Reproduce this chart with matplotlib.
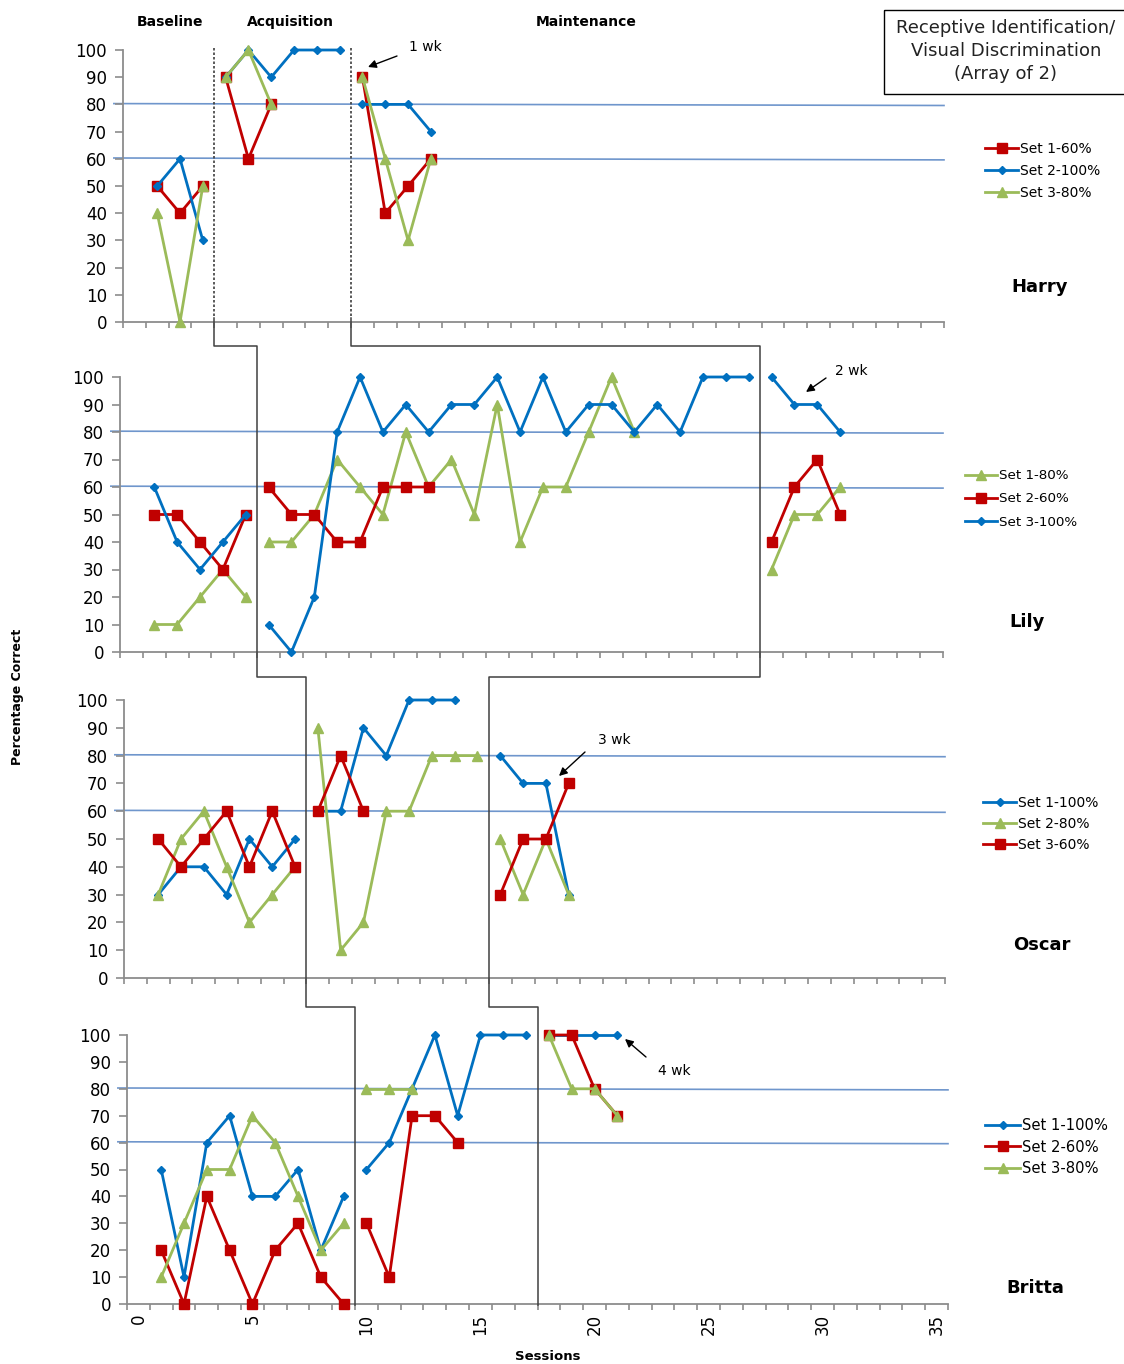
import numpy as np
import matplotlib
matplotlib.use("Agg")
import matplotlib.pyplot as plt
from matplotlib.patches import Rectangle
from matplotlib.ticker import FixedLocator

plt.rcParams['font.family'] = ['DejaVu Sans']

nan = np.nan

# ---- data ----
harry_sessions = np.arange(1, 14)
harry_phase = np.array([0]*3 + [1]*6 + [2]*4)
harry_set1 = [50, 40, 50, 90, 60, 80, nan, nan, nan, 90, 40, 50, 60]
harry_set2 = [50, 60, 30, 90, 100, 90, 100, 100, 100, 80, 80, 80, 70]
harry_set3 = [40, 0, 50, 90, 100, 80, nan, nan, nan, 90, 60, 30, 60]

lily_sessions = np.arange(1, 32)
lily_phase = np.array([0]*5 + [1]*22 + [2]*4)
lily_set1 = [10, 10, 20, 30, 20,
             40, 40, 50, 70, 60, 50, 80, 60, 70, 50, 90, 40, 60, 60, 80, 100, 80,
             nan, nan, nan, nan, nan,
             30, 50, 50, 60]
lily_set2 = [50, 50, 40, 30, 50,
             60, 50, 50, 40, 40, 60, 60, 60] + [nan]*14 + [40, 60, 70, 50]
lily_set3 = [60, 40, 30, 40, 50,
             10, 0, 20, 80, 100, 80, 90, 80, 90, 90, 100, 80, 100, 80, 90, 90, 80,
             90, 80, 100, 100, 100,
             100, 90, 90, 80]

oscar_sessions = np.arange(1, 20)
oscar_phase = np.array([0]*7 + [1]*8 + [2]*4)
oscar_set1 = [30, 40, 40, 30, 50, 40, 50, 60, 60, 90, 80, 100, 100, 100, nan, 80, 70, 70, 30]
oscar_set2 = [30, 50, 60, 40, 20, 30, 40, 90, 10, 20, 60, 60, 80, 80, 80, 50, 30, 50, 30]
oscar_set3 = [50, 40, 50, 60, 40, 60, 40, 60, 80, 60, nan, nan, nan, nan, nan, 30, 50, 50, 70]

britta_sessions = np.arange(1, 22)
britta_phase = np.array([0]*9 + [1]*8 + [2]*4)
britta_set1 = [50, 10, 60, 70, 40, 40, 50, 20, 40, 50, 60, 80, 100, 70, 100, 100, 100, 100, 100, 100, 100]
britta_set2 = [20, 0, 40, 20, 0, 20, 30, 10, 0, 30, 10, 70, 70, 60, nan, nan, nan, 100, 100, 80, 70]
britta_set3 = [10, 30, 50, 50, 70, 60, 40, 20, 30, 80, 80, 80, nan, nan, nan, nan, nan, 100, 80, 80, 70]

criteria = [60, 80]
phase_names = ["Baseline", "Acquisition", "Maintenance"]

# ---- styles ----
RED = dict(color='#C00000', marker='s', ms=6.5, lw=2)
BLUE = dict(color='#0070C0', marker='D', ms=4.5, lw=2)
GREEN = dict(color='#9BBB59', marker='^', ms=7, lw=2)
AXC = '#8C8C8C'

W, H = 1124, 1364
fig = plt.figure(figsize=(W/100, H/100), dpi=100)


def px_axes(left, top, right, bottom):
    return fig.add_axes([left/W, 1 - bottom/H, (right - left)/W, (bottom - top)/H])


def draw_panel(ax, sessions, phases, series, bottom=False):
    for c in criteria:
        ax.plot([-0.9, 35.5], [c + 0.3, c - 0.4], color='#6F96CC', lw=1.2,
                clip_on=False, zorder=1)
    for label, vals, style in series:
        vals = np.array(vals, float)
        for k, p in enumerate(np.unique(phases)):
            m = phases == p
            ax.plot(sessions[m], vals[m], label=label if k == 0 else '_nolegend_',
                    zorder=3, clip_on=False, **style)
    ax.set_xlim(-0.5, 35.5)
    ax.set_ylim(0, 100)
    ax.set_yticks(range(0, 101, 10))
    ax.set_xticks(range(0, 36, 5))
    ax.xaxis.set_minor_locator(FixedLocator(np.arange(-0.5, 35.6, 1)))
    for s in ['top', 'right']:
        ax.spines[s].set_visible(False)
    for s in ['left', 'bottom']:
        ax.spines[s].set_color(AXC)
        ax.spines[s].set_linewidth(1.3)
    ax.tick_params(axis='y', length=5.5, width=1.2, color=AXC, pad=6, labelsize=12)
    ax.tick_params(axis='x', which='minor', length=4.5, width=1.2, color=AXC)
    ax.tick_params(axis='x', which='major', length=0, labelsize=12, pad=7,
                   labelbottom=bottom, labelrotation=90)
    ax.patch.set_alpha(0)


def phase_bounds(sessions, phases):
    return [(sessions[phases == k].max() + sessions[phases == k + 1].min()) / 2 for k in (0, 1)]


ax_h = px_axes(123, 50, 944, 322)
ax_l = px_axes(120, 377, 943, 652)
ax_o = px_axes(124, 700, 945, 978)
ax_b = px_axes(127, 1035, 948, 1304)

draw_panel(ax_h, harry_sessions, harry_phase,
           [("Set 1-60%", harry_set1, RED), ("Set 2-100%", harry_set2, BLUE),
            ("Set 3-80%", harry_set3, GREEN)])
draw_panel(ax_l, lily_sessions, lily_phase,
           [("Set 1-80%", lily_set1, GREEN), ("Set 2-60%", lily_set2, RED),
            ("Set 3-100%", lily_set3, BLUE)])
draw_panel(ax_o, oscar_sessions, oscar_phase,
           [("Set 1-100%", oscar_set1, BLUE), ("Set 2-80%", oscar_set2, GREEN),
            ("Set 3-60%", oscar_set3, RED)])
draw_panel(ax_b, britta_sessions, britta_phase,
           [("Set 1-100%", britta_set1, BLUE), ("Set 2-60%", britta_set2, RED),
            ("Set 3-80%", britta_set3, GREEN)], bottom=True)

# legends, placed in figure pixels
for ax, (lx, ly), fs, sp in [(ax_h, (985, 171), 10, 0.6), (ax_l, (965, 499), 9.7, 0.75),
                             (ax_o, (983, 824), 10, 0.5), (ax_b, (985, 1147), 10.6, 0.45)]:
    ax.legend(loc='center left', bbox_to_anchor=(lx/W, 1 - ly/H), bbox_transform=fig.transFigure,
              frameon=False, fontsize=fs, handlelength=2.4, handletextpad=0.1,
              labelspacing=sp, borderpad=0, borderaxespad=0)

# overlay in image pixels for lines and text
ov = fig.add_axes([0, 0, 1, 1], zorder=10)
ov.set_xlim(0, W)
ov.set_ylim(H, 0)
ov.axis('off')

panels = [(ax_h, harry_sessions, harry_phase), (ax_l, lily_sessions, lily_phase),
          (ax_o, oscar_sessions, oscar_phase), (ax_b, britta_sessions, britta_phase)]
gaps = [48, 346, 677, 1007, 1305]
for k in (0, 1):
    xs = [ax.transData.transform((phase_bounds(s, p)[k], 0))[0] for ax, s, p in panels]
    ov.plot([xs[0], xs[0]], [gaps[0], 318], color='#404040', lw=1.2, ls=(0, (1.5, 1.2)))
    px, py = [xs[0]], [318]
    for i in range(4):
        px += [xs[i], xs[i]]
        py += [gaps[i] if i else 318, gaps[i + 1]]
        if i < 3:
            px += [xs[i + 1]]
            py += [gaps[i + 1]]
    ov.plot(px, py, color='#404040', lw=1.1)

# phase headers
for name, x in zip(phase_names, [170, 290, 586]):
    ov.text(x, 22, name, ha='center', va='center', fontsize=10, fontweight='bold')

# title box
ov.add_patch(Rectangle((884, 10), 250, 84, fill=False, edgecolor='black', lw=1))
ov.text(1006, 51, "Receptive Identification/\nVisual Discrimination\n(Array of 2)",
        ha='center', va='center', fontsize=13, linespacing=1.35, color='#222222')

# participant names
for name, x, y in [("Harry", 1040, 287), ("Lily", 1027, 622), ("Oscar", 1042, 945),
                   ("Britta", 1035, 1288)]:
    ov.text(x, y, name, ha='center', va='center', fontsize=13, fontweight='bold')

ov.text(18, 697, "Percentage Correct", rotation=90, ha='center', va='center',
        fontsize=9, fontweight='bold')
ov.text(548, 1356, "Sessions", ha='center', va='center', fontsize=9.5, fontweight='bold')

# follow-up delay annotations
arrow = dict(arrowstyle='-|>', color='black', lw=1, mutation_scale=12, shrinkA=0, shrinkB=0)
for txt, tx, ty, ax0, ay0, ax1, ay1 in [("1 wk", 425, 47, 397, 56, 368, 67),
                                         ("2 wk", 851, 371, 826, 378, 806, 392),
                                         ("3 wk", 614, 740, 585, 752, 559, 776),
                                         ("4 wk", 674, 1071, 646, 1057, 625, 1039)]:
    ov.text(tx, ty, txt, ha='center', va='center', fontsize=10)
    ov.annotate('', xy=(ax1, ay1), xytext=(ax0, ay0), arrowprops=arrow)

fig.savefig("out.png", dpi=100)
